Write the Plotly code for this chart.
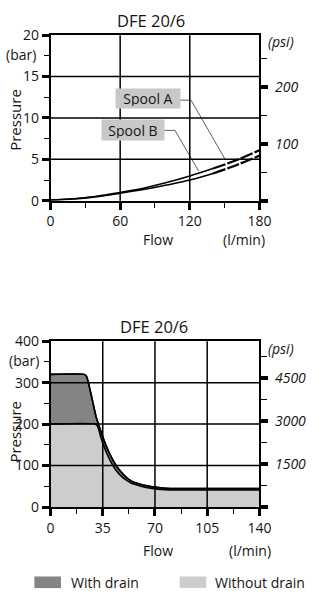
import plotly.graph_objects as go

# ---------------- data ----------------
flow_top = [0, 20, 40, 60, 80, 100, 120, 140, 160, 180]
spool_a = [0.1, 0.25, 0.55, 1.0, 1.5, 2.2, 3.0, 3.9, 4.9, 6.1]
spool_b = [0.1, 0.22, 0.5, 0.9, 1.35, 1.9, 2.5, 3.3, 4.3, 5.45]
dash_from = 140  # curves drawn dashed beyond this flow

flow_drain = [0, 22, 24, 30.5, 33.5, 37, 40.5, 44.5, 49, 54, 60, 68, 77, 86, 140]
p_drain = [320, 320, 316, 218, 185, 150, 122, 97, 78, 63, 55, 49, 45.5, 44.5, 44.5]
flow_nodrain = [0, 30, 31.5, 34, 37, 40, 44, 48.5, 54, 60, 68, 77, 86, 140]
p_nodrain = [200, 200, 195, 165, 135, 112, 88, 71, 58, 51, 45, 42, 41, 41]

top_xticks = [0, 60, 120, 180]
top_xminor = [30, 90, 150]
top_yticks = [0, 5, 10, 15, 20]
top_yminor = [2.5, 7.5, 12.5, 17.5]
top_psi_ticks = [0, 100, 200]
top_psi_text = ["", "100", "200"]
top_psi_minor = [50, 150, 250]
top_xgrid = [60, 120]
top_ygrid = [5, 10, 15]

bot_xticks = [0, 35, 70, 105, 140]
bot_xminor = [17.5, 52.5, 87.5, 122.5]
bot_yticks = [0, 100, 200, 300, 400]
bot_yminor = [50, 150, 250, 350]
bot_psi_ticks = [0, 1500, 3000, 4500]
bot_psi_text = ["", "1500", "3000", "4500"]
bot_psi_minor = [750, 2250, 3750, 5250]
bot_xgrid = [35, 70, 105]
bot_ygrid = [100, 200, 300]

PSI = 14.5038
W, H = 317, 600
FONT = "Open Sans"
TXT = "#151515"
DARK = "#848484"
LIGHT = "#cdcdcd"

def px(x):
    return x / W

def py(y):
    return 1 - y / H

fig = go.Figure()

# ---------------- top chart ----------------
def split(xs, ys, cut):
    s_x = [x for x in xs if x <= cut]
    s_y = [y for x, y in zip(xs, ys) if x <= cut]
    d_x = [x for x in xs if x >= cut]
    d_y = [y for x, y in zip(xs, ys) if x >= cut]
    return s_x, s_y, d_x, d_y

for ys in (spool_a, spool_b):
    sx, sy, dx, dy = split(flow_top, ys, dash_from)
    fig.add_trace(go.Scatter(x=sx, y=sy, mode="lines", line=dict(color="black", width=1.6, shape="spline"),
                             xaxis="x", yaxis="y", showlegend=False, hoverinfo="skip"))
    fig.add_trace(go.Scatter(x=dx, y=dy, mode="lines", line=dict(color="black", width=2.2, dash="13px,2px", shape="spline"),
                             xaxis="x", yaxis="y", showlegend=False, hoverinfo="skip"))

# leader lines for labels
leader_a_x = [111.3, 121.1, 150.5]
leader_a_y = [12.15, 12.15, 5.0]
leader_b_x = [97.4, 107.2, 127.6]
leader_b_y = [8.5, 8.5, 3.6]
for lx, ly in ((leader_a_x, leader_a_y), (leader_b_x, leader_b_y)):
    fig.add_trace(go.Scatter(x=lx, y=ly, mode="lines", line=dict(color="#333", width=0.8),
                             xaxis="x", yaxis="y", showlegend=False, hoverinfo="skip"))

# invisible trace to activate psi axis
fig.add_trace(go.Scatter(x=[0], y=[0], mode="markers", marker=dict(opacity=0), xaxis="x", yaxis="y2",
                         showlegend=False, hoverinfo="skip"))

# ---------------- bottom chart ----------------
fig.add_trace(go.Scatter(x=flow_drain, y=p_drain, mode="lines", fill="tozeroy", fillcolor=DARK,
                         line=dict(color="black", width=1.6, shape="spline", smoothing=0.5),
                         xaxis="x3", yaxis="y3", showlegend=False, hoverinfo="skip"))
fig.add_trace(go.Scatter(x=flow_nodrain, y=p_nodrain, mode="lines", fill="tozeroy", fillcolor=LIGHT,
                         line=dict(color="black", width=1.6, shape="spline", smoothing=0.5),
                         xaxis="x3", yaxis="y3", showlegend=False, hoverinfo="skip"))
fig.add_trace(go.Scatter(x=flow_drain, y=p_drain, mode="lines",
                         line=dict(color="black", width=1.6, shape="spline", smoothing=0.5),
                         xaxis="x3", yaxis="y3", showlegend=False, hoverinfo="skip"))
fig.add_trace(go.Scatter(x=[0], y=[0], mode="markers", marker=dict(opacity=0), xaxis="x3", yaxis="y4",
                         showlegend=False, hoverinfo="skip"))

xdom = [px(49), px(269)]
top_dom = [py(197), py(26)]
bot_dom = [py(513.3), py(342)]

tickfont = dict(family=FONT, size=14, color=TXT)
itfont = dict(family=FONT, size=14, color=TXT, style="italic")

def xaxis(rng, tv, minor, anchor):
    return dict(domain=xdom, range=rng, tickvals=tv, ticks="outside", ticklen=7, tickwidth=2.8,
                tickcolor="black", minor=dict(tickvals=minor, ticks="outside", ticklen=5, tickwidth=1.3, tickcolor="black"),
                showline=True, linewidth=1.5, linecolor="black", mirror=True, showgrid=False, zeroline=False,
                tickfont=tickfont, anchor=anchor, fixedrange=True, ticklabelstandoff=0)

def yaxis(rng, dom, tv, minor, anchor):
    return dict(domain=dom, range=rng, tickvals=tv, ticks="outside", ticklen=7, tickwidth=2.8,
                tickcolor="black", minor=dict(tickvals=minor, ticks="outside", ticklen=5, tickwidth=1.3, tickcolor="black"),
                showline=True, linewidth=1.5, linecolor="black", showgrid=False, zeroline=False,
                tickfont=tickfont, anchor=anchor, fixedrange=True, ticklabelstandoff=0)

def psiaxis(rng, tv, tt, minor, over, anchor):
    return dict(overlaying=over, side="right", range=rng, tickvals=tv, ticktext=tt, ticks="outside",
                ticklen=7, tickwidth=3.8, tickcolor="black",
                minor=dict(tickvals=minor, ticks="outside", ticklen=6, tickwidth=1.3, tickcolor="black"),
                showline=True, linewidth=1.5, linecolor="black", showgrid=False, zeroline=False,
                tickfont=itfont, anchor=anchor, fixedrange=True, ticklabelstandoff=4)

fig.update_layout(
    width=W, height=H, autosize=False,
    margin=dict(l=0, r=0, t=0, b=0),
    paper_bgcolor="white", plot_bgcolor="white",
    xaxis=xaxis([0, 180], top_xticks, top_xminor, "y"),
    yaxis=yaxis([0, 20], top_dom, top_yticks, top_yminor, "x"),
    yaxis2=psiaxis([0, 20 * PSI], top_psi_ticks, top_psi_text, top_psi_minor, "y", "x"),
    xaxis3=xaxis([0, 140], bot_xticks, bot_xminor, "y3"),
    yaxis3=yaxis([0, 400], bot_dom, bot_yticks, bot_yminor, "x3"),
    yaxis4=psiaxis([0, 400 * PSI], bot_psi_ticks, bot_psi_text, bot_psi_minor, "y3", "x3"),
)

shapes = []
for v in top_xgrid:
    shapes.append(dict(type="line", xref="x", yref="y domain", x0=v, x1=v, y0=0, y1=1,
                       line=dict(color="black", width=1.5), layer="above"))
for v in top_ygrid:
    shapes.append(dict(type="line", xref="x domain", yref="y", x0=0, x1=1, y0=v, y1=v,
                       line=dict(color="black", width=1.5), layer="above"))
for v in bot_xgrid:
    shapes.append(dict(type="line", xref="x3", yref="y3 domain", x0=v, x1=v, y0=0, y1=1,
                       line=dict(color="black", width=1.5), layer="above"))
for v in bot_ygrid:
    shapes.append(dict(type="line", xref="x3 domain", yref="y3", x0=0, x1=1, y0=v, y1=v,
                       line=dict(color="black", width=1.5), layer="above"))
# legend swatches
shapes.append(dict(type="rect", xref="paper", yref="paper", x0=px(32), x1=px(60), y0=py(597), y1=py(585),
                   fillcolor=DARK, line=dict(width=0)))
shapes.append(dict(type="rect", xref="paper", yref="paper", x0=px(185), x1=px(213), y0=py(597), y1=py(585),
                   fillcolor=LIGHT, line=dict(width=0)))
fig.update_layout(shapes=shapes)

def ann(text, x, y, size=14, xanchor="center", italic=False, angle=0):
    f = dict(family=FONT, size=size, color=TXT)
    if italic:
        f["style"] = "italic"
    return dict(text=text, xref="paper", yref="paper", x=px(x), y=py(y), xanchor=xanchor, yanchor="middle",
                showarrow=False, font=f, textangle=angle)

anns = [
    ann("DFE 20/6", 155, 11, size=16.5),
    ann("(bar)", 18, 46),
    ann("(psi)", 292, 33, italic=True),
    ann("Pressure", 12, 113, size=15, angle=-90),
    ann("Flow", 162, 237),
    ann("(l/min)", 253, 237),
    ann("DFE 20/6", 158, 327, size=16.5),
    ann("(bar)", 21, 362),
    ann("(psi)", 292, 350, italic=True),
    ann("Pressure", 12, 435, size=15, angle=-90),
    ann("Flow", 162, 558),
    ann("(l/min)", 259, 558),
    ann("With drain", 68, 591, xanchor="left"),
    ann("Without drain", 220, 591, xanchor="left"),
]
# spool labels in data coordinates
anns.append(dict(text="Spool A", xref="x", yref="y", x=83.9, y=12.3, showarrow=False, width=60, height=15,
                 bgcolor="#c8c8c8", borderpad=2, font=dict(family=FONT, size=14, color=TXT)))
anns.append(dict(text="Spool B", xref="x", yref="y", x=70.8, y=8.6, showarrow=False, width=58, height=16,
                 bgcolor="#c8c8c8", borderpad=2, font=dict(family=FONT, size=14, color=TXT)))
fig.update_layout(annotations=anns)

fig.write_html("out.html")
